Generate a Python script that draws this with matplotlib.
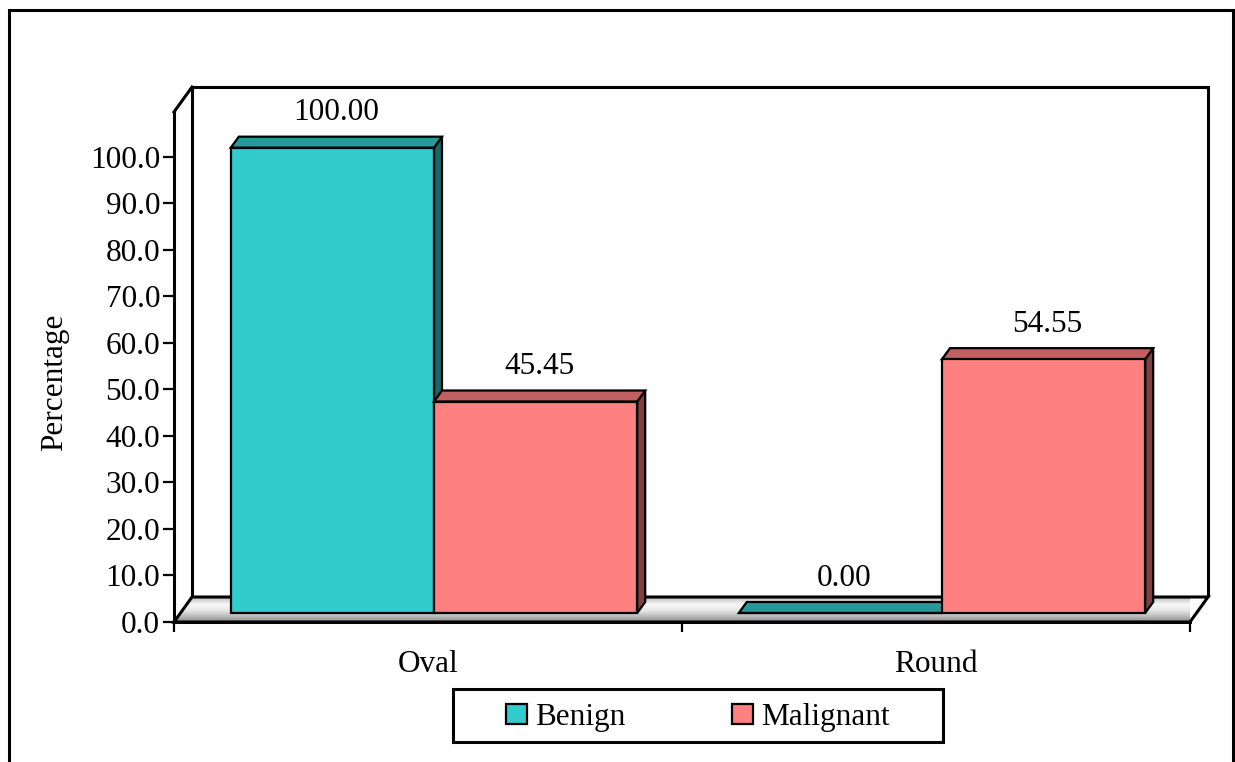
import numpy as np
import matplotlib
matplotlib.use("Agg")
import matplotlib.pyplot as plt
from matplotlib.patches import Polygon, Rectangle, Patch

# ---- data ----
categories = ["Oval", "Round"]
series_names = ["Benign", "Malignant"]
benign = [100.00, 0.00]
malignant = [45.45, 54.55]
y_ticks = [0, 10, 20, 30, 40, 50, 60, 70, 80, 90, 100]

# ---- styling ----
plt.rcParams['font.family'] = ['Liberation Serif', 'DejaVu Serif']
FS = 22.5
front_colors = ["#33CCCC", "#FF8080"]
top_colors = ["#279999", "#C06060"]
side_colors = ["#1B6666", "#804040"]

W, H = 1235, 762
fig = plt.figure(figsize=(W / 100, H / 100), dpi=100)

# front plane of the plot area (pixels measured from the top-left)
left_px, right_px, top_px, bottom_px = 174, 1190, 112, 622
ax = fig.add_axes([left_px / W, 1 - bottom_px / H,
                   (right_px - left_px) / W, (bottom_px - top_px) / H])
ymax = 109.6
ax.set_xlim(0, len(categories))
ax.set_ylim(0, ymax)
ax.patch.set_visible(False)

ppx = ax.bbox.width / len(categories)   # pixels per category unit
ppy = ax.bbox.height / ymax             # pixels per percent


def shift(x, y, d):
    """Move a data point by a pixel depth offset."""
    return (x + d[0] / ppx, y + d[1] / ppy)


WALL = (18, 25)      # depth of the back wall
BAR_F = (6, 9)       # front plane of the bars
BAR_B = (14, 20)     # back plane of the bars
n = len(categories)

# back wall
wall = Polygon([shift(0, 0, WALL), shift(0, ymax, WALL), shift(n, ymax, WALL), shift(n, 0, WALL)],
               closed=False, facecolor="white", edgecolor="black", lw=2.2, zorder=0.5, clip_on=False)
ax.add_patch(wall)
ax.plot(*zip((0, ymax), shift(0, ymax, WALL)), color="black", lw=2.2, clip_on=False, zorder=0.5,
        solid_capstyle="projecting")

# floor with a shaded gradient
floor_pts = [(0, 0), (n, 0), shift(n, 0, WALL), shift(0, 0, WALL)]
floor = Polygon(floor_pts, closed=True, facecolor="none", edgecolor="black", lw=2.2,
                zorder=0.7, clip_on=False, joinstyle="miter")
ax.add_patch(floor)
t = np.linspace(0, 1, 120)
g = np.interp(t, [0, 0.08, 0.3, 0.55, 1.0], [0.62, 0.80, 0.97, 0.90, 0.55])
grad = np.repeat(g[:, None, None], 3, axis=2)
fx1, fy1 = shift(n, 0, WALL)
im = ax.imshow(grad, extent=[0, fx1, 0, fy1], origin="upper", aspect="auto",
               interpolation="bilinear", zorder=0.6)
im.set_clip_path(floor)
ax.set_xlim(0, n)
ax.set_ylim(0, ymax)

# bars
group_w = 0.8
bar_w = group_w / 2
for i in range(n):
    for j, vals in enumerate([benign, malignant]):
        v = vals[i]
        x0 = i + (1 - group_w) / 2 + j * bar_w
        x1 = x0 + bar_w
        z = 1 + i * 2 + j
        front = Polygon([shift(x0, 0, BAR_F), shift(x1, 0, BAR_F), shift(x1, v, BAR_F), shift(x0, v, BAR_F)],
                        closed=True, facecolor=front_colors[j], edgecolor="black", lw=1.6,
                        zorder=z, clip_on=False, joinstyle="miter")
        top = Polygon([shift(x0, v, BAR_F), shift(x1, v, BAR_F), shift(x1, v, BAR_B), shift(x0, v, BAR_B)],
                      closed=True, facecolor=top_colors[j], edgecolor="black", lw=1.6,
                      zorder=z, clip_on=False, joinstyle="miter")
        side = Polygon([shift(x1, 0, BAR_F), shift(x1, v, BAR_F), shift(x1, v, BAR_B), shift(x1, 0, BAR_B)],
                       closed=True, facecolor=side_colors[j], edgecolor="black", lw=1.6,
                       zorder=z, clip_on=False, joinstyle="miter")
        for p in (side, top, front):
            ax.add_patch(p)
        ax.annotate(f"{v:.2f}", xy=((x0 + x1) / 2, v), xytext=(BAR_F[0] + 4, BAR_F[1] + 35),
                    textcoords="offset pixels", ha="center", va="center", fontsize=FS,
                    zorder=10, annotation_clip=False)

# axes, ticks and labels
for s in ("top", "right"):
    ax.spines[s].set_visible(False)
for s in ("left", "bottom"):
    ax.spines[s].set_linewidth(2.2)
    ax.spines[s].set_zorder(8)

ax.set_yticks(y_ticks)
ax.set_yticklabels([f"{v:.1f}" for v in y_ticks])
ax.tick_params(axis="y", direction="out", length=8, width=1.6, pad=2, labelsize=FS)

ax.set_xticks([i + 0.5 for i in range(n)])
ax.set_xticklabels(categories)
ax.set_xticks(list(range(n + 1)), minor=True)
ax.tick_params(axis="x", which="major", length=0, pad=20.5, labelsize=FS)
ax.tick_params(axis="x", which="minor", direction="out", length=7.5, width=1.6)

ax.set_ylabel("Percentage", fontsize=FS, va="center")
ax.yaxis.set_label_coords((55 - left_px) / (right_px - left_px), (bottom_px - 382) / (bottom_px - top_px))

# legend
handles = [Patch(facecolor=c, edgecolor="black", lw=1.6) for c in front_colors]
fig.legend(handles, series_names, loc="center", bbox_to_anchor=(698 / W, 1 - 717.5 / H),
           ncol=2, frameon=False, fontsize=FS, handlelength=0.67, handleheight=0.65,
           handletextpad=0.26, columnspacing=3.42)
fig.patches.append(Rectangle((453 / W, 1 - 742 / H), (943 - 453) / W, (742 - 689) / H,
                             transform=fig.transFigure, fill=False, edgecolor="black", lw=2.2))

# outer frame
fig.patches.append(Rectangle((9 / W, -0.05), (1233 - 9) / W, 1.05 - 10 / H,
                             transform=fig.transFigure, fill=False, edgecolor="black", lw=2.2))

fig.savefig("out.png", dpi=100)
